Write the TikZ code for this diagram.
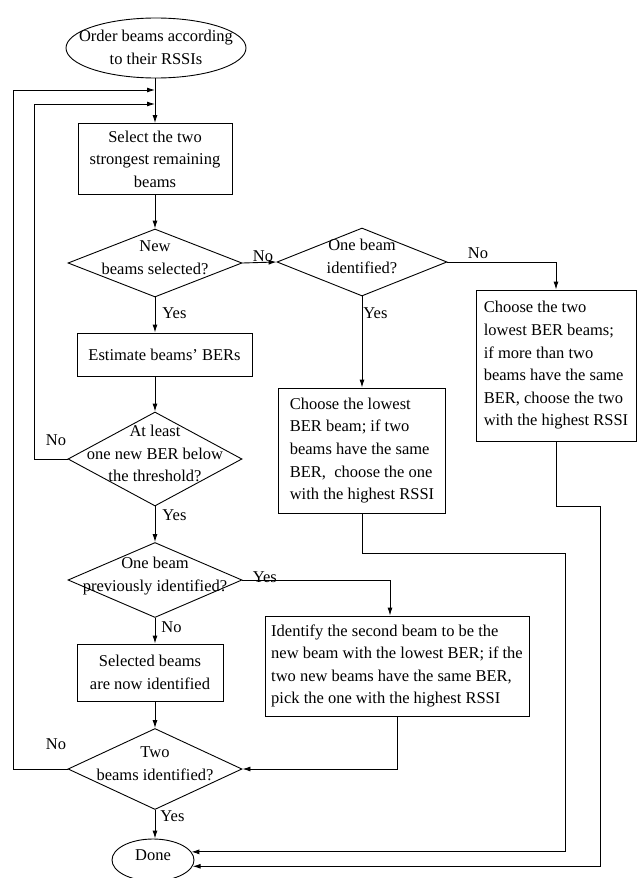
\documentclass[tikz,border=0pt]{standalone}
\usepackage{fontspec}
\setmainfont{Liberation Serif}
\usetikzlibrary{shapes.geometric,arrows.meta,positioning}
\newcommand{\flowtext}[2][0pt]{\raisebox{#1}[0pt][0pt]{\makebox[0pt]{\begin{tabular}{@{}c@{}}#2\end{tabular}}}}

\begin{document}
\begin{tikzpicture}[
      x=1pt, y=-1pt,
      line width=0.9pt,
      every node/.style={font=\fontsize{16.5}{22.6}\selectfont},
      process/.style={rectangle, draw, inner sep=0pt},
      decision/.style={diamond, draw, inner sep=0pt},
      terminal/.style={ellipse, draw, inner sep=0pt},
      lbl/.style={inner sep=0pt},
      flow/.style={-{Latex[length=8pt,width=5pt]}},
    ]
    \useasboundingbox (0,0) rectangle (637,878);
    \node[terminal, minimum width=180pt, minimum height=60pt] (order) at (156,48) {\flowtext[-5pt]{Order beams according\\to their RSSIs}};
    \node[process, minimum width=154pt, minimum height=71pt, align=center] (select) at (155,159) {Select the two\\strongest remaining\\beams};
    \node[decision, minimum width=174pt, minimum height=68pt] (newsel) at (155,263) {\flowtext{New\\beams selected?}};
    \node[decision, minimum width=170pt, minimum height=68pt] (onebeam) at (362,262) {\flowtext{One beam\\identified?}};
    \node[process, minimum width=175pt, minimum height=43pt] (estimate) at (164.5,354.5) {Estimate beams' BERs};
    \node[decision, minimum width=174pt, minimum height=94pt] (atleast) at (155,459) {\flowtext{At least\\one new BER below\\the threshold?}};
    \node[process, minimum width=167pt, minimum height=125pt, align=left] (lowest) at (362,450.5) {Choose the lowest\\BER beam; if two\\beams have the same\\BER,\ \ choose the one\\with the highest RSSI};
    \node[process, minimum width=160pt, minimum height=151pt, align=left] (lowesttwo) at (556,365.5) {Choose the two\\lowest BER beams;\\if more than two\\beams have the same\\BER, choose the two\\with the highest RSSI};
    \node[decision, minimum width=174pt, minimum height=75pt] (previd) at (155,580) {\flowtext{One beam\\previously identified?}};
    \node[process, minimum width=264pt, minimum height=100pt, align=left] (second) at (397,666) {Identify the second beam to be the\\new beam with the lowest BER; if the\\two new beams have the same BER,\\pick the one with the highest RSSI};
    \node[process, minimum width=146pt, minimum height=57pt, align=center] (nowid) at (150,672.5) {Selected beams\\are now identified};
    \node[decision, minimum width=174pt, minimum height=81pt] (twoid) at (155,769) {\flowtext{Two\\beams identified?}};
    \node[terminal, minimum width=82pt, minimum height=42pt] (done) at (153,860) {\flowtext{Done}};
    \coordinate (in1) at (155,90);
    \coordinate (in2) at (155,104);

    \draw[flow] (order.south -| select.north) -- (select.north);
    \draw[flow] (select.south) -- (newsel.north);
    \draw[flow] (newsel.east) -- node[lbl, at start, anchor=south west, xshift=10pt, yshift=1pt] {No} (onebeam.west);
    \draw[flow] (newsel.south) -- node[lbl, pos=0.45, right=7pt] {Yes} (newsel.south |- estimate.north);
    \draw[flow] (estimate.south -| atleast.north) -- (atleast.north);
    \draw[flow] (atleast.south) -- node[lbl, pos=0.25, right=7pt] {Yes} (previd.north);
    \draw[flow] (previd.south) -- node[lbl, pos=0.37, right=6pt] {No} (previd.south |- nowid.north);
    \draw[flow] (nowid.south -| twoid.north) -- (twoid.north);
    \draw[flow] (twoid.south) -- node[lbl, pos=0.2, right=5pt] {Yes} (twoid.south |- done.north);
    \draw[flow] (atleast.west) -- node[lbl, at start, anchor=south east, xshift=-1pt, yshift=13pt] {No} ++(-33,0) |- (in2);
    \draw[flow] (twoid.west) -- node[lbl, at start, anchor=south east, xshift=-1pt, yshift=19pt] {No} ++(-54,0) |- (in1);
    \draw[flow] (onebeam.east) -| node[lbl, at start, anchor=south west, xshift=20pt, yshift=3pt] {No} (lowesttwo.north);
    \draw[flow] (onebeam.south) -- node[lbl, pos=0.18, right=1pt] {Yes} (lowest.north);
    \draw[flow] (previd.east) -| node[lbl, at start, anchor=base west, xshift=10pt, yshift=-2pt] {Yes} ([xshift=-7pt]second.north);
    \draw[flow] (second.south) |- (twoid.east);
    \draw[flow] (lowest.south) -- ++(0,40) -- ++(203,0) |- (done.12);
    \draw[flow] (lowesttwo.south) -- ++(0,65) -- ++(44,0) |- (done.-9);
\end{tikzpicture}
\end{document}
